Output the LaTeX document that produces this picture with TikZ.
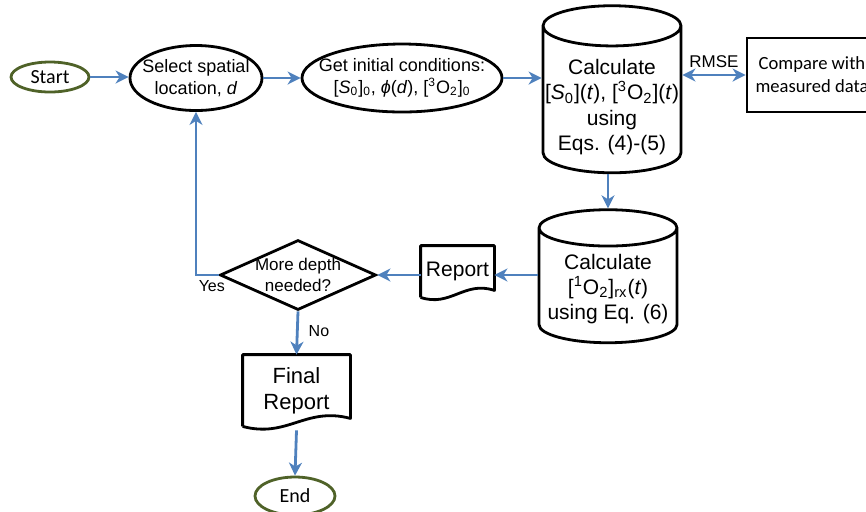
\documentclass[tikz,border=0pt]{standalone}
\usepackage{fontspec}
\setmainfont{Liberation Sans}
\newfontfamily\calibri{Carlito}
\usetikzlibrary{shapes.geometric,arrows.meta}
\definecolor{flowblue}{HTML}{4F81BD}
\definecolor{termgreen}{HTML}{4F6228}
\begin{document}
\begin{tikzpicture}[x=0.5pt,y=-0.5pt,
every node/.style={line width=1.4pt,align=center,inner sep=0pt},
terminal/.style={ellipse,draw=termgreen,font=\calibri\fontsize{10}{12}\selectfont,minimum width=39pt,minimum height=15pt},
oval/.style={ellipse,draw,font=\fontsize{9}{11}\selectfont,inner xsep=-7pt},
calc/.style={cylinder,shape border rotate=90,aspect=0.3,draw,minimum width=69pt,font=\fontsize{10.5}{12.6}\selectfont},
decision/.style={diamond,draw,aspect=2.2,inner xsep=-4pt,minimum width=78pt,minimum height=35pt,font=\fontsize{8.5}{10.2}\selectfont},
doc/.style={rectangle,font=\fontsize{10.5}{12.6}\selectfont},
cmpbox/.style={rectangle,draw,minimum width=65pt,minimum height=37pt,font=\calibri\fontsize{9.3}{11.5}\selectfont},
flow/.style={draw=flowblue,line width=1.4pt,-{Stealth[length=6.5pt,width=6.5pt,inset=2pt]}},
tag/.style={font=\fontsize{8}{10}\selectfont,inner sep=2pt}
]
\useasboundingbox (0,0) rectangle (866,511);
\node[terminal] (start) at (50,77) {Start};
\node[oval,minimum width=66pt,minimum height=32.5pt] (sel) at (196,78) {Select spatial\\location, \textit{d}};
\node[oval,minimum width=100pt,minimum height=34pt] (get) at (402,78) {Get initial conditions:\\{}[\textit{S}\textsubscript{0}]\textsubscript{0}, \textit{ϕ}(\textit{d}), [\textsuperscript{3}O\textsubscript{2}]\textsubscript{0}};
% strut on the first line pushes the text below the lid
\node[calc,inner ysep=-1pt] (calc1) at (612,100) {\rule{0pt}{14.7pt}Calculate\\{}[\textit{S}\textsubscript{0}](\textit{t}), [\textsuperscript{3}O\textsubscript{2}](\textit{t})\\using\\Eqs. (4)-(5)};
\node[cmpbox] (cmp) at (812,75) {Compare with\\measured data};
\node[calc,inner ysep=0.25pt] (calc2) at (608,286) {\rule{0pt}{10.7pt}Calculate\\{}[\textsuperscript{1}O\textsubscript{2}]\textsubscript{rx}(\textit{t})\\using Eq. (6)};
\node[doc,minimum width=35.5pt,minimum height=24.5pt] (rep) at (457.5,271.5) {Report};
\node[decision] (dia) at (298,275) {More depth\\needed?};
\node[doc,font=\fontsize{11}{13}\selectfont,minimum width=52.5pt,minimum height=34.5pt] (fin) at (296.5,390.5) {Final\\Report};
\node[terminal,minimum width=40pt,minimum height=19pt] (end) at (295,496) {End};
\draw[line width=1.4pt,line join=round] (rep.south west) -- (rep.north west) -- (rep.north east) -- ([yshift=3.5pt]rep.south east) .. controls +(-30,-10) and +(30,10) .. (rep.south west);
\draw[line width=1.4pt,line join=round] (fin.south west) -- (fin.north west) -- (fin.north east) -- ([yshift=4pt]fin.south east) .. controls +(-45,-12) and +(45,12) .. (fin.south west);
\draw[flow] (start) -- (start -| sel.west);
\draw[flow] (sel) -- (get);
\draw[flow] (get.east) -- (get.east -| calc1.west);
\draw[draw=flowblue,line width=1.4pt,{Stealth[length=6.5pt,width=6.5pt,inset=2pt]}-{Stealth[length=6.5pt,width=6.5pt,inset=2pt]}] (cmp.west -| calc1.east) -- (cmp.west) node[midway,above=3pt,font=\fontsize{8.5}{10}\selectfont] {RMSE};
\draw[flow] (calc2.north |- calc1.south) -- (calc2.north);
\draw[flow] (calc2.west |- dia.east) -- (dia.east -| rep.east);
\draw[flow] (rep.west |- dia.east) -- (dia.east);
\draw[flow] (dia.west) -| (sel.south) node[tag,pos=0.15,below] {Yes};
\draw[flow] (dia.south) -- (fin.north) node[tag,pos=0.45,right=3pt] {No};
\draw[flow] ([yshift=-2pt]fin.south) -- (end.north);
\end{tikzpicture}
\end{document}
